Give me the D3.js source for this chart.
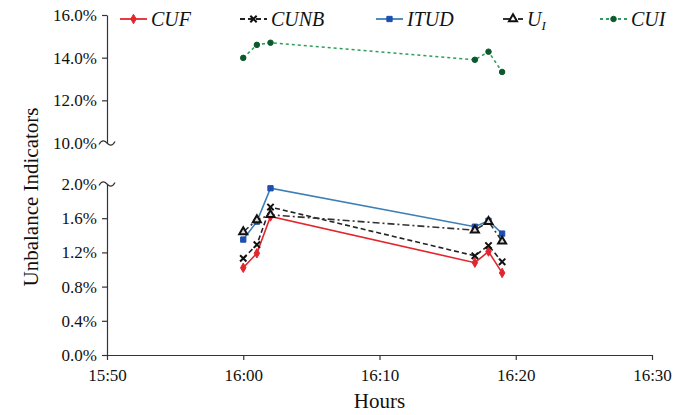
<!DOCTYPE html>
<html>
<head>
<meta charset="utf-8">
<script src="https://cdn.jsdelivr.net/npm/d3@7"></script>
<style>
  body { margin: 0; background: #fff; }
  svg text { font-family: 'Liberation Serif', 'Times New Roman', serif; fill: #111; }
</style>
</head>
<body>
<div id="chart"></div>
<script>
// Sample times (minutes after 15:50) and values (%)
const times = [10, 11, 12, 27, 28, 29];
const cuf  = [1.02, 1.19, 1.62, 1.08, 1.21, 0.96];
const cunb = [1.13, 1.29, 1.73, 1.16, 1.28, 1.09];
const itud = [1.35, 1.56, 1.95, 1.50, 1.57, 1.42];
const ui   = [1.44, 1.58, 1.64, 1.46, 1.56, 1.33];
const cui  = [13.99, 14.60, 14.70, 13.90, 14.28, 13.33];

const xTicks = [0, 10, 20, 30, 40];
const xTickLabels = ['15:50', '16:00', '16:10', '16:20', '16:30'];
const lowTicks = [0, 0.4, 0.8, 1.2, 1.6, 2.0];
const highTicks = [10, 12, 14, 16];

(function() {
    const W = 695, H = 415;

    const svg = d3.select('#chart').append('svg')
        .attr('width', W)
        .attr('height', H);

    // Scales: one time axis, a broken y axis made of two linear pieces
    const x = d3.scaleLinear().domain([0, 40]).range([107, 652]);
    const yLow = d3.scaleLinear().domain([0, 2]).range([355, 184]);
    const yHigh = d3.scaleLinear().domain([10, 16]).range([143, 15]);

    const series = [
        { name: 'CUF', values: cuf, scale: yLow, line: '#e3262e', dash: null, marker: 'diamond', mfill: '#e3262e', mstroke: '#e3262e', sw: 1 },
        { name: 'CUNB', values: cunb, scale: yLow, line: '#222', dash: '5,3', marker: 'cross', mfill: 'none', mstroke: '#111', sw: 2 },
        { name: 'ITUD', values: itud, scale: yLow, line: '#3d7fb5', dash: null, marker: 'square', mfill: '#1d4fb0', mstroke: '#1d4fb0', sw: 1 },
        { name: 'UI', values: ui, scale: yLow, line: '#333', dash: '7,3,2,3', marker: 'triangle', mfill: '#ddd', mstroke: '#111', sw: 2 },
        { name: 'CUI', values: cui, scale: yHigh, line: '#2e9e5a', dash: '3,3', marker: 'circle', mfill: '#0c5a2c', mstroke: '#0c5a2c', sw: 1 }
    ];

    const symbols = {
        diamond: d3.symbol().type(d3.symbolDiamond).size(26),
        cross: d3.symbol().type(d3.symbolX).size(28),
        square: d3.symbol().type(d3.symbolSquare).size(28),
        triangle: d3.symbol().type(d3.symbolTriangle).size(28),
        circle: d3.symbol().type(d3.symbolCircle).size(24)
    };

    // ---- Axes ----
    const axisG = svg.append('g').attr('stroke', '#333').attr('stroke-width', 1.2);

    // x axis
    const xAxis = svg.append('g')
        .attr('transform', `translate(0,${yLow(0)})`)
        .call(d3.axisBottom(x).tickValues(xTicks).tickFormat((d, i) => xTickLabels[i]).tickSize(5).tickSizeOuter(0));
    xAxis.select('.domain').attr('stroke', '#333').attr('stroke-width', 1.2);
    xAxis.selectAll('.tick line').attr('stroke', '#333').attr('stroke-width', 1.2);
    xAxis.selectAll('text')
        .attr('dy', '1.05em')
        .style('font-size', '17px')
        .style('font-family', "'Liberation Serif', serif")
        .attr('fill', '#111');

    // lower y axis piece
    const yLowAxis = svg.append('g')
        .attr('transform', `translate(${x(0)},0)`)
        .call(d3.axisLeft(yLow).tickValues(lowTicks).tickFormat(d => d.toFixed(1) + '%').tickSize(5).tickSizeOuter(0));
    // upper y axis piece
    const yHighAxis = svg.append('g')
        .attr('transform', `translate(${x(0)},0)`)
        .call(d3.axisLeft(yHigh).tickValues(highTicks).tickFormat(d => d.toFixed(1) + '%').tickSize(5).tickSizeOuter(0));

    [yLowAxis, yHighAxis].forEach(g => {
        g.select('.domain').attr('stroke', '#333').attr('stroke-width', 1.2);
        g.selectAll('.tick line').attr('stroke', '#333').attr('stroke-width', 1.2);
        g.selectAll('text')
            .attr('x', -10)
            .style('font-size', '17px')
            .style('font-family', "'Liberation Serif', serif")
            .attr('fill', '#111');
    });

    // break marks: replace the end ticks with small waves
    yLowAxis.selectAll('.tick').filter(d => d === 2).select('line').remove();
    yHighAxis.selectAll('.tick').filter(d => d === 10).select('line').remove();
    function wave(cx, cy) {
        return `M${cx - 8},${cy + 1.5} C${cx - 5},${cy - 4} ${cx - 2},${cy - 2} ${cx},${cy} S${cx + 5},${cy + 4} ${cx + 8},${cy - 1.5}`;
    }
    axisG.append('path').attr('d', wave(x(0), yHigh(10))).attr('fill', 'none');
    axisG.append('path').attr('d', wave(x(0), yLow(2))).attr('fill', 'none');

    // ---- Series ----
    series.forEach(s => {
        const pts = times.map((t, i) => [x(t), s.scale(s.values[i])]);
        svg.append('path')
            .datum(pts)
            .attr('d', d3.line())
            .attr('fill', 'none')
            .attr('stroke', s.line)
            .attr('stroke-width', 1.6)
            .attr('stroke-dasharray', s.dash);
        svg.append('g').selectAll('path')
            .data(pts)
            .enter()
            .append('path')
            .attr('d', symbols[s.marker])
            .attr('transform', d => `translate(${d[0]},${d[1]})`)
            .attr('fill', s.mfill)
            .attr('stroke', s.mstroke)
            .attr('stroke-width', s.sw);
    });

    // ---- Legend ----
    const legendX = [120, 240, 376, 503, 600];
    const legend = svg.append('g');
    series.forEach((s, i) => {
        const g = legend.append('g').attr('transform', `translate(${legendX[i]},19)`);
        const len = s.name === 'UI' ? 20 : 27;
        g.append('line')
            .attr('x1', 0).attr('x2', len)
            .attr('stroke', s.line)
            .attr('stroke-width', 1.8)
            .attr('stroke-dasharray', s.dash);
        g.append('path')
            .attr('d', symbols[s.marker])
            .attr('transform', `translate(${len / 2},0)`)
            .attr('fill', s.marker === 'triangle' ? '#fff' : s.mfill)
            .attr('stroke', s.mstroke)
            .attr('stroke-width', s.sw);
        const t = g.append('text')
            .attr('x', len + 4)
            .attr('y', 7)
            .style('font-size', '20px')
            .style('font-style', 'italic');
        if (s.name === 'UI') {
            t.text('U');
            t.append('tspan').attr('dy', 4).style('font-size', '13px').text('I');
        } else {
            t.text(s.name);
        }
    });

    // ---- Axis titles ----
    svg.append('text')
        .attr('transform', `translate(38,${(15 + 355) / 2 + 12}) rotate(-90)`)
        .attr('text-anchor', 'middle')
        .style('font-size', '21px')
        .text('Unbalance Indicators');

    svg.append('text')
        .attr('x', x(20))
        .attr('y', 408)
        .attr('text-anchor', 'middle')
        .style('font-size', '21px')
        .text('Hours');
})();
</script>
</body>
</html>
